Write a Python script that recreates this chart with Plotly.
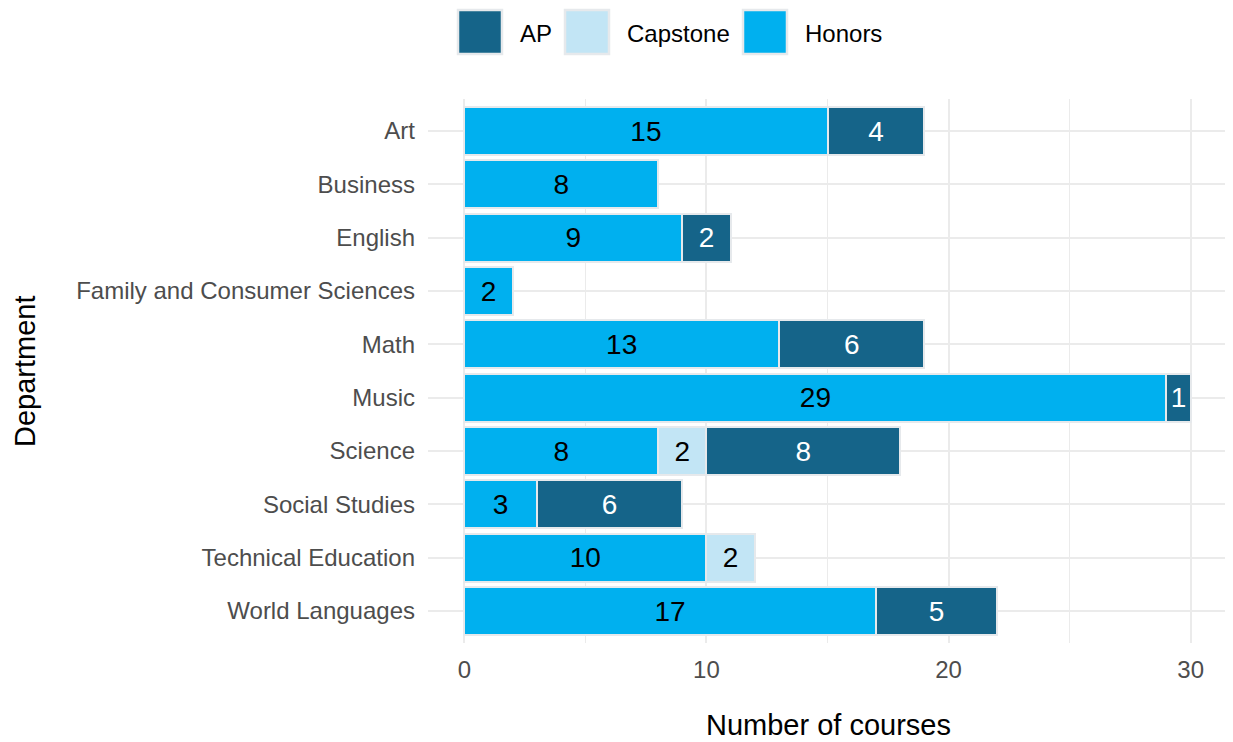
import plotly.graph_objects as go

departments = ["Art", "Business", "English", "Family and Consumer Sciences", "Math",
               "Music", "Science", "Social Studies", "Technical Education", "World Languages"]
honors = [15, 8, 9, 2, 13, 29, 8, 3, 10, 17]
capstone = [None, None, None, None, None, None, 2, None, 2, None]
ap = [4, None, 2, None, 6, 1, 8, 6, None, 5]

series = [
    ("Honors", honors, "#00b0ef", "black"),
    ("Capstone", capstone, "#c2e5f5", "black"),
    ("AP", ap, "#156489", "white"),
]
legend_order = ["AP", "Capstone", "Honors"]
x_ticks = [0, 10, 20, 30]

FONT = "Liberation Sans"
OFF = 8  # page body margin
W_FIG, H_FIG = 1233 - OFF, 742 - OFF
L, R, T, B = 428 - OFF, 1227 - OFF, 99 - OFF, 643 - OFF


def xp(px):
    return (px - OFF - L) / (R - L)


def yp(py):
    return (B - (py - OFF)) / (B - T)


fig = go.Figure()
for name, vals, color, tcolor in series:
    fig.add_trace(go.Bar(
        name=name, y=departments, x=vals, orientation="h", width=0.9,
        marker=dict(color=color, line=dict(color="#e6e9ec", width=2)),
        text=[("" if v is None else str(v)) for v in vals],
        textposition="inside", insidetextanchor="middle", textangle=0,
        constraintext="none",
        textfont=dict(family=FONT, size=28, color=tcolor),
        showlegend=False,
    ))

fig.update_layout(
    width=W_FIG, height=H_FIG,
    margin=dict(l=L, r=W_FIG - R, t=T, b=H_FIG - B, autoexpand=False),
    barmode="stack",
    plot_bgcolor="white", paper_bgcolor="white",
    font=dict(family=FONT),
    uniformtext=dict(minsize=28, mode="show"),
    showlegend=False,
)
fig.update_xaxes(
    range=[-1.5, 31.5], tickvals=x_ticks, ticktext=[str(v) for v in x_ticks],
    showgrid=True, gridcolor="#ebebeb", gridwidth=1.5,
    minor=dict(tick0=5, dtick=10, showgrid=True, gridcolor="#ebebeb", gridwidth=0.8),
    zeroline=False, showline=False,
    tickfont=dict(family=FONT, size=24, color="#4d4d4d"),
    ticklabelstandoff=10,
)
fig.update_yaxes(
    categoryorder="array", categoryarray=departments,
    range=[len(departments) - 0.4, -0.6],
    showgrid=True, gridcolor="#ebebeb", gridwidth=1.5,
    zeroline=False, showline=False,
    tickfont=dict(family=FONT, size=24, color="#4d4d4d"),
    ticklabelstandoff=12,
)

annotations = [
    dict(text="Number of courses", x=xp(828), y=yp(725), xref="paper", yref="paper",
         xanchor="center", yanchor="middle", showarrow=False,
         font=dict(family=FONT, size=29, color="black")),
    dict(text="Department", x=xp(25), y=yp(371), xref="paper", yref="paper",
         xanchor="center", yanchor="middle", textangle=-90, showarrow=False,
         font=dict(family=FONT, size=29, color="black")),
]
shapes = []
colors = {s[0]: s[2] for s in series}
key_left = {"AP": 458, "Capstone": 565, "Honors": 743}
text_left = {"AP": 518, "Capstone": 625, "Honors": 803}
for name in legend_order:
    x0 = key_left[name]
    shapes.append(dict(type="rect", xref="paper", yref="paper",
                       x0=xp(x0), x1=xp(x0 + 44), y0=yp(54), y1=yp(10),
                       fillcolor=colors[name], line=dict(color="#e6e9ec", width=2.5)))
    annotations.append(dict(text=name, x=xp(text_left[name]), y=yp(33),
                            xref="paper", yref="paper", xanchor="left", yanchor="middle",
                            showarrow=False, font=dict(family=FONT, size=24, color="black")))

fig.update_layout(annotations=annotations, shapes=shapes)
fig.write_html("out.html")
